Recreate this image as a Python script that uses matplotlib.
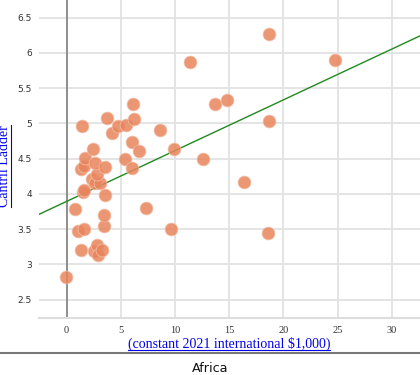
import matplotlib
matplotlib.use("Agg")
import matplotlib.pyplot as plt
from matplotlib.lines import Line2D

# ---- data ----
gdp = [-0.05, 0.77, 1.05, 1.60, 1.32, 2.50, 2.83, 2.86, 3.29, 3.42, 3.48, 3.53,
       1.53, 1.60, 2.30, 2.60, 3.07, 2.80, 1.32, 1.63, 1.69, 2.60, 3.54, 2.40,
       1.44, 3.72, 4.18, 4.75, 5.47, 6.21, 6.15, 6.05, 6.70, 5.42, 6.05, 8.60,
       9.87, 11.37, 12.58, 13.71, 14.76, 18.69, 24.78, 18.63, 16.32, 18.60,
       7.30, 9.67]
ladder = [2.82, 3.78, 3.48, 3.50, 3.21, 3.19, 3.28, 3.14, 3.21, 3.55, 3.70, 3.99,
          4.02, 4.05, 4.21, 4.16, 4.15, 4.28, 4.35, 4.39, 4.51, 4.44, 4.38, 4.64,
          4.96, 5.07, 4.86, 4.97, 4.98, 5.06, 5.27, 4.73, 4.61, 4.49, 4.37, 4.90,
          4.63, 5.87, 4.50, 5.28, 5.33, 6.27, 5.90, 5.04, 4.17, 3.44,
          3.80, 3.50]
trend_intercept = 3.894
trend_slope = 0.072
x_ticks = [0, 5, 10, 15, 20, 25, 30]
y_ticks = [2.5, 3, 3.5, 4, 4.5, 5, 5.5, 6, 6.5]
x_label = "(constant 2021 international $1,000)"
y_label = "Cantril Ladder"
title = "Africa"

W, H = 420, 375
fig = plt.figure(figsize=(W / 100, H / 100), dpi=100)
ax = fig.add_axes([39 / W, 1 - 318 / H, (W - 39) / W, 318 / H])
ax.set_xlim(-2.55, 32.6)
ax.set_ylim(2.24, 6.75)

ax.set_xticks(x_ticks)
ax.set_yticks(y_ticks)
ax.set_xticklabels([str(t) for t in x_ticks], fontfamily="Liberation Serif",
                   fontsize=7.5, color="#333333")
ax.set_yticklabels([f"{t:g}" for t in y_ticks], fontfamily="DejaVu Sans",
                   fontsize=6.5, color="#333333")
ax.tick_params(axis="x", length=0, pad=6)
ax.tick_params(axis="y", length=0, pad=5)
ax.grid(True, color="#e2e2e2", lw=1.3)
ax.set_axisbelow(True)
for s in ["top", "right", "left"]:
    ax.spines[s].set_visible(False)
ax.spines["bottom"].set_color("#dddddd")
ax.spines["bottom"].set_linewidth(1.5)

ax.axvline(0, color="#888888", lw=1.3, zorder=1.5)

ax.scatter(gdp, ladder, s=85, color="#e8855c", alpha=0.85,
           edgecolors="#f3c0aa", linewidths=0.6, zorder=3)
ax.axline((0, trend_intercept), slope=trend_slope, color="#1f8a1f", lw=1.0,
          zorder=2)

# labels
xl = fig.text(229 / W, 1 - 344 / H, x_label, ha="center", va="center",
              fontfamily="Liberation Serif", fontsize=10, color="#0000ee")
yl = fig.text(5 / W, 1 - 166 / H, y_label, ha="center", va="center",
              rotation=90, fontfamily="Liberation Serif", fontsize=10,
              color="#0000ee")
fig.text(210 / W, 1 - 368 / H, title, ha="center", va="center",
         fontfamily="DejaVu Sans", fontsize=9.2, color="#111111")
fig.add_artist(Line2D([0, 1], [1 - 353 / H, 1 - 353 / H], color="#777777",
                      lw=1.5, transform=fig.transFigure))

fig.canvas.draw()
r = fig.canvas.get_renderer()
bb = xl.get_window_extent(r)
fig.add_artist(Line2D([bb.x0 / W, bb.x1 / W], [(bb.y0 + 1) / H, (bb.y0 + 1) / H],
                      color="#0000ee", lw=0.8, transform=fig.transFigure))
bb = yl.get_window_extent(r)
fig.add_artist(Line2D([(bb.x1 - 1) / W, (bb.x1 - 1) / W], [bb.y0 / H, bb.y1 / H],
                      color="#0000ee", lw=0.8, transform=fig.transFigure))

fig.savefig("out.png", dpi=100)
